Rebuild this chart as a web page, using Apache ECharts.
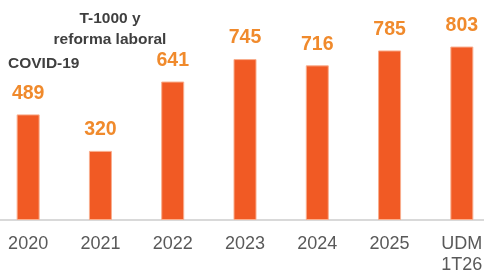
<!DOCTYPE html>
<html>
<head>
<meta charset="utf-8">
<script src="https://cdn.jsdelivr.net/npm/echarts@6/dist/echarts.min.js"></script>
<style>
  html, body { margin: 0; padding: 0; background: #fff; }
  #chart { width: 484px; height: 275px; }
</style>
</head>
<body>
<div id="chart"></div>
<script>
// data
const categories = ['2020', '2021', '2022', '2023', '2024', '2025', 'UDM\n1T26'];
const values = [489, 320, 641, 745, 716, 785, 803];
const notes = ['COVID-19', 'T-1000 y\nreforma laboral'];

const FONT = '"Liberation Sans", Arial, sans-serif';

const chart = echarts.init(document.getElementById('chart'));

const option = {
  animation: false,
  grid: { left: -8, width: 506, top: 4, height: 216, outerBoundsMode: 'none', containLabel: false },
  xAxis: {
    type: 'category',
    data: categories,
    axisTick: { show: false },
    axisLine: { lineStyle: { color: '#D9D9D9', width: 2 } },
    axisLabel: {
      color: '#595959',
      fontFamily: FONT,
      fontSize: 18,
      lineHeight: 21,
      margin: 14,
      interval: 0
    }
  },
  yAxis: {
    type: 'value',
    min: 0,
    max: 1000,
    show: false,
    splitLine: { show: false }
  },
  series: [{
    type: 'bar',
    data: values,
    barWidth: 23,
    itemStyle: { color: '#F15A24', borderColor: '#F9AE8E', borderWidth: 1 },
    label: {
      show: true,
      position: 'top',
      distance: 11,
      color: '#F08A2C',
      fontFamily: FONT,
      fontWeight: 'bold',
      fontSize: 19.5
    }
  }],
  graphic: [
    {
      type: 'text', x: 8, y: 56,
      style: { text: notes[0], fill: '#3F3F3F', font: 'bold 15.5px ' + FONT }
    },
    {
      type: 'text', x: 110, y: 8,
      style: {
        text: notes[1], fill: '#3F3F3F', font: 'bold 15.5px ' + FONT,
        align: 'center', lineHeight: 21
      }
    }
  ]
};

chart.setOption(option);
</script>
</body>
</html>
